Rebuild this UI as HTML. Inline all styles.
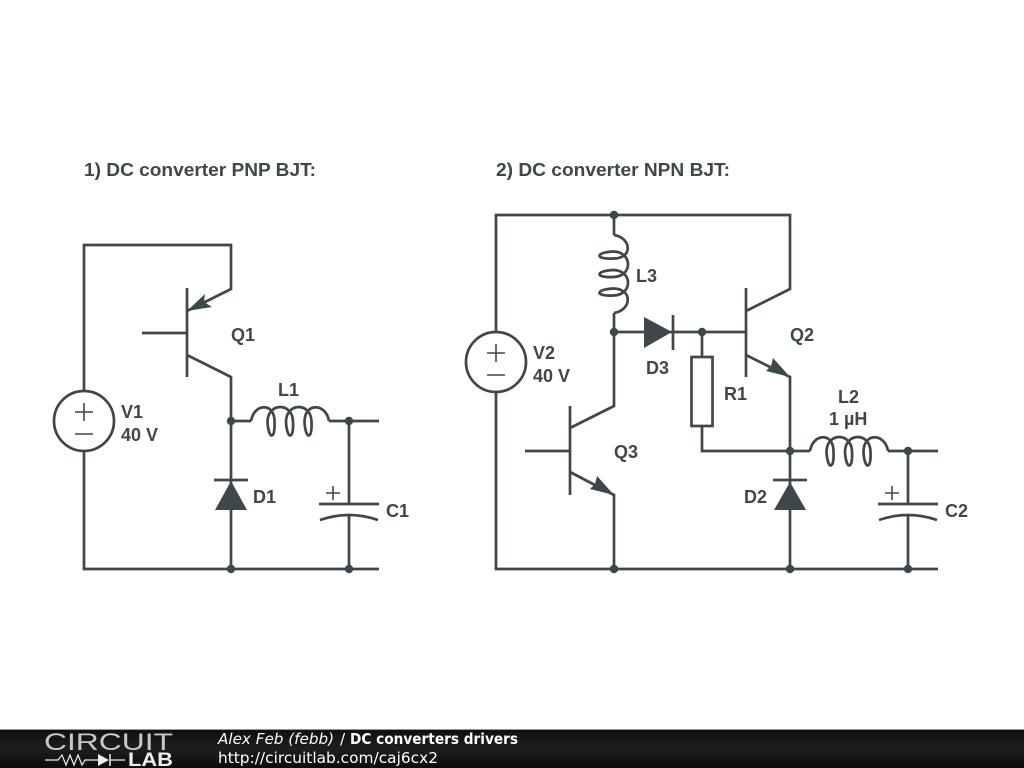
<!DOCTYPE html>
<html>
<head>
<meta charset="utf-8">
<style>
html,body{margin:0;padding:0;background:#fff;width:1024px;height:768px;overflow:hidden}
svg{display:block;position:absolute;left:0;top:0;filter:blur(0.35px)}
.w{fill:none;stroke:#3e474c;stroke-width:2.7;stroke-linejoin:miter;stroke-linecap:butt}
.p{fill:none;stroke:#3e474c;stroke-width:1.6}
.t{font-family:"Liberation Sans",sans-serif;font-weight:bold;font-size:18px;fill:#3e474c}
.h{font-family:"Liberation Sans",sans-serif;font-weight:bold;font-size:18.7px;fill:#3e474c}
.f{font-family:"DejaVu Sans",sans-serif;font-size:15.3px;fill:#fff}
.d{fill:#3e474c}
</style>
</head>
<body>
<svg width="1024" height="768" viewBox="0 0 1024 768" xmlns="http://www.w3.org/2000/svg">
<defs>
<linearGradient id="g" x1="0" y1="0" x2="0" y2="1"><stop offset="0" stop-color="#0e0e0e"/><stop offset="0.5" stop-color="#1e1e1e"/><stop offset="1" stop-color="#0c0c0c"/></linearGradient>
</defs>
<rect width="1024" height="768" fill="#fff"/>

<text class="h" x="84" y="176" textLength="232" lengthAdjust="spacingAndGlyphs">1) DC converter PNP BJT:</text>
<text class="h" x="496" y="176" textLength="234" lengthAdjust="spacingAndGlyphs">2) DC converter NPN BJT:</text>

<!-- Circuit 1 -->
<path class="w" d="M84,391V245H231V289L187,311M187,288V377M142,333H187M187,355L231,377V569M84,451V569H379"/>
<circle class="w" cx="84" cy="421" r="30"/>
<path class="p" d="M75,412H93M84,403V421M75,434H93"/>
<path class="d" d="M187,311L212,307L204,302L205,294Z"/>
<path class="w" d="M231,421H251M329,421H379"/>
<path class="w" transform="translate(251,421)" d="M0,0C3,-18 24,-19 23.5,1C24.5,19 17.5,19 16.5,1C16.5,-19 42,-19 42,1C43,19 36,19 35,1C35,-19 60.5,-19 60.5,1C61.5,19 54.5,19 53.5,1C53.5,-19 75,-18 78,0"/>
<circle class="d" cx="231" cy="421" r="4.2"/><circle class="d" cx="349" cy="421" r="4.2"/>
<circle class="d" cx="231" cy="569" r="4.2"/><circle class="d" cx="349" cy="569" r="4.2"/>
<path class="w" d="M214,480H248"/>
<path class="d" d="M231,481L247,510H215Z"/>
<path class="w" d="M349,421V504M319,504H379M320,520Q349,510 378,520M349,515V569"/>
<path class="p" d="M326,493H340M333,486V500"/>

<text class="t" x="231" y="341">Q1</text>
<text class="t" x="278" y="396">L1</text>
<text class="t" x="121" y="418">V1</text>
<text class="t" x="121" y="441">40 V</text>
<text class="t" x="253" y="503">D1</text>
<text class="t" x="386" y="517">C1</text>

<!-- Circuit 2 -->
<path class="w" d="M496,332V215H790V289L746,311M746,288V377M746,332H614M746,355L790,377V569M496,392V569H938"/>
<circle class="w" cx="496" cy="362" r="30"/>
<path class="p" d="M487,353H505M496,344V362M487,375H505"/>
<path class="w" d="M614,215V235M614,313V406L570,428M570,406V495M525,451H570M570,472L614,495V569"/>
<path class="w" transform="matrix(0,1,-1,0,614,235)" d="M0,0C3,-18 24,-19 23.5,1C24.5,19 17.5,19 16.5,1C16.5,-19 42,-19 42,1C43,19 36,19 35,1C35,-19 60.5,-19 60.5,1C61.5,19 54.5,19 53.5,1C53.5,-19 75,-18 78,0"/>
<path class="d" d="M614,495L590,489L595,484L597,476Z"/>
<path class="d" d="M790,377L766,371L771,366L773,358Z"/>
<path class="d" d="M644,317L672,332L644,348Z"/>
<path class="w" d="M673,315V350"/>
<path class="w" d="M702,332V357M702,426V451H790"/>
<rect class="w" x="691.5" y="357" width="21" height="69"/>
<path class="w" d="M790,451H810M888,451H938"/>
<path class="w" transform="translate(810,451)" d="M0,0C3,-18 24,-19 23.5,1C24.5,19 17.5,19 16.5,1C16.5,-19 42,-19 42,1C43,19 36,19 35,1C35,-19 60.5,-19 60.5,1C61.5,19 54.5,19 53.5,1C53.5,-19 75,-18 78,0"/>
<path class="w" d="M773,480H807"/>
<path class="d" d="M790,482L806,510H774Z"/>
<path class="w" d="M908,451V504M878,504H938M879,520Q908,510 937,520M908,515V569"/>
<path class="p" d="M885,493H899M892,486V500"/>
<circle class="d" cx="614" cy="215" r="4.2"/><circle class="d" cx="614" cy="332" r="4.2"/>
<circle class="d" cx="702" cy="332" r="4.2"/><circle class="d" cx="790" cy="451" r="4.2"/>
<circle class="d" cx="908" cy="451" r="4.2"/><circle class="d" cx="614" cy="569" r="4.2"/>
<circle class="d" cx="790" cy="569" r="4.2"/><circle class="d" cx="908" cy="569" r="4.2"/>

<text class="t" x="636" y="282">L3</text>
<text class="t" x="790" y="341">Q2</text>
<text class="t" x="533" y="359">V2</text>
<text class="t" x="533" y="382">40 V</text>
<text class="t" x="646" y="374">D3</text>
<text class="t" x="724" y="400">R1</text>
<text class="t" x="838" y="403">L2</text>
<text class="t" x="829" y="425">1 µH</text>
<text class="t" x="614" y="458">Q3</text>
<text class="t" x="744" y="503">D2</text>
<text class="t" x="945" y="517">C2</text>

<!-- Footer -->
<rect x="0" y="729" width="1024" height="39" fill="url(#g)"/>
<rect x="0" y="729" width="1024" height="1" fill="#999"/>
<text x="44" y="750" font-family="Liberation Sans,sans-serif" font-size="24" fill="#c8c8c8" textLength="129" lengthAdjust="spacingAndGlyphs">CIRCUIT</text>
<path d="M45,760H58L62,755L66,765L70,755L74,765L78,755L82,765L85,760H98M110,760H125" fill="none" stroke="#eee" stroke-width="1.2"/>
<path d="M98,754L109,760L98,766Z" fill="#eee"/>
<path d="M110,754V766" stroke="#eee" stroke-width="1.5"/>
<text x="128" y="766" font-family="Liberation Sans,sans-serif" font-weight="bold" font-size="19" fill="#eee" textLength="45" lengthAdjust="spacingAndGlyphs">LAB</text>
<text class="f" x="218" y="744" font-style="italic" textLength="116" lengthAdjust="spacingAndGlyphs">Alex Feb (febb)</text>
<text class="f" x="340" y="744">/</text>
<text class="f" x="350" y="744" font-weight="bold" textLength="168" lengthAdjust="spacingAndGlyphs">DC converters drivers</text>
<text class="f" x="218" y="763" textLength="220" lengthAdjust="spacingAndGlyphs">http://circuitlab.com/caj6cx2</text>
</svg>
</body>
</html>
